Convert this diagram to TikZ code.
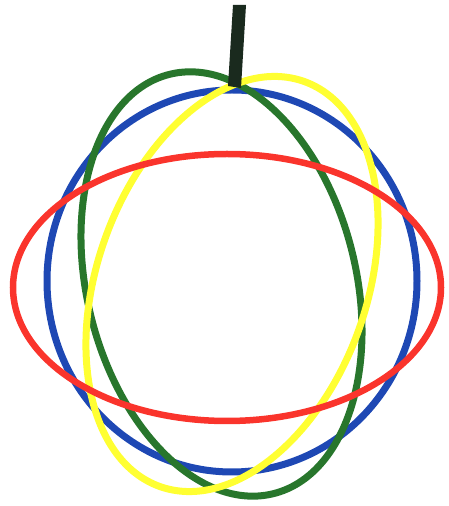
\documentclass[tikz,border=0pt]{standalone}
\definecolor{ringblue}{RGB}{30,72,180}
\definecolor{ringgreen}{RGB}{40,118,44}
\definecolor{ringyellow}{RGB}{255,255,50}
\definecolor{ringred}{RGB}{250,52,44}
\definecolor{postcol}{RGB}{26,42,30}
\tikzset{ring/.style={line width=7pt}}
\begin{document}
\begin{tikzpicture}[x=1pt,y=1pt]
\useasboundingbox (0,0) rectangle (449,506);
% blue ring
\draw[ring,ringblue] (232,225) ellipse [x radius=185, y radius=191];
% green ring
\draw[ring,ringgreen,rotate around={13.9:(221.5,222)}] (221.5,222) ellipse [x radius=134.5, y radius=216];
% yellow ring
\draw[ring,ringyellow,rotate around={-19.6:(232,222)}] (232,222) ellipse [x radius=134.8, y radius=215];
% red ring
\draw[ring,line width=6.5pt,ringred] (227,218.5) ellipse [x radius=214, y radius=133.5];
% post
\fill[postcol] (233,501) -- (246,501) -- (241,418) -- (228,420) -- cycle;
\end{tikzpicture}
\end{document}
